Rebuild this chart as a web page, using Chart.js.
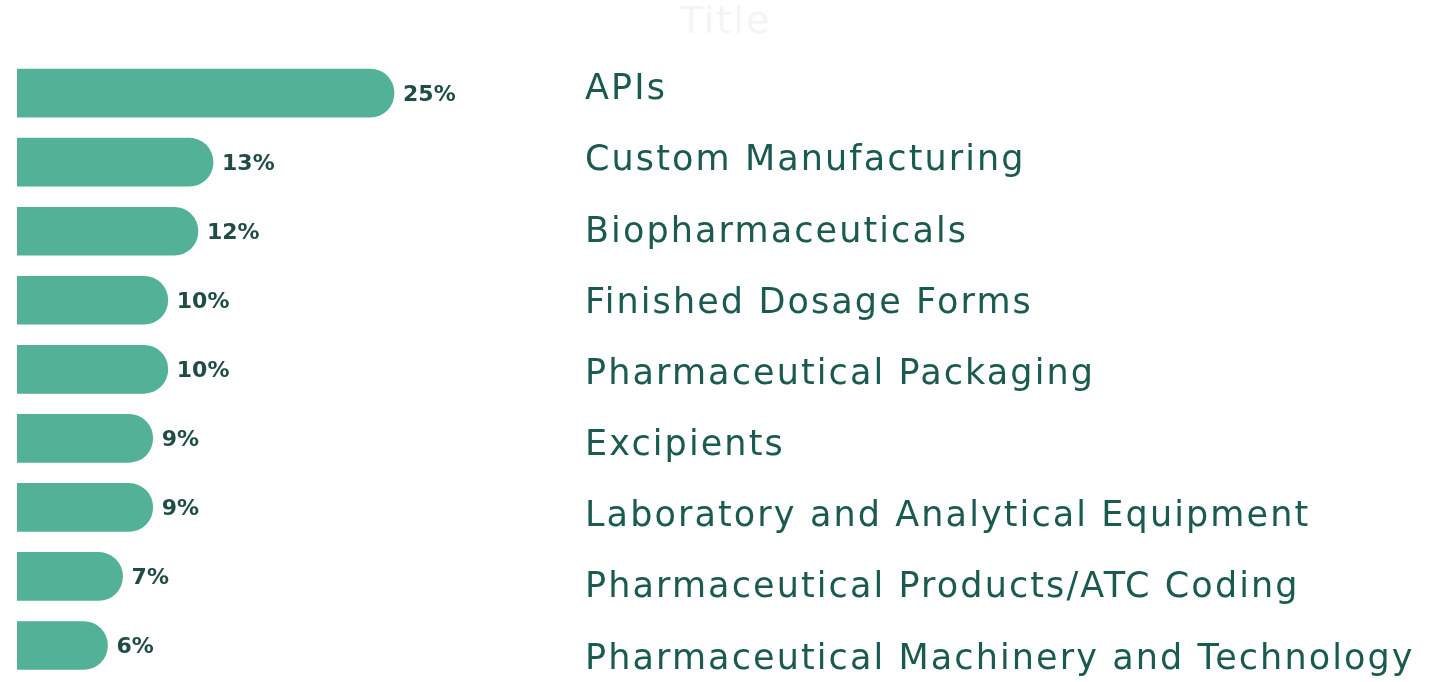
<!DOCTYPE html>
<html>
<head>
<meta charset="utf-8">
<script src="https://cdn.jsdelivr.net/npm/chart.js@4.4.1/dist/chart.umd.min.js"></script>
<style>
    html, body { margin: 0; padding: 0; background: #ffffff; }
    #wrap { width: 1434px; height: 682px; }
</style>
</head>
<body>
<div id="wrap"><canvas id="chart"></canvas></div>
<script>
(function () {
    'use strict';

    var CATEGORIES = [
        'APIs',
        'Custom Manufacturing',
        'Biopharmaceuticals',
        'Finished Dosage Forms',
        'Pharmaceutical Packaging',
        'Excipients',
        'Laboratory and Analytical Equipment',
        'Pharmaceutical Products/ATC Coding',
        'Pharmaceutical Machinery and Technology'
    ];
    var SHARES = [25, 13, 12, 10, 10, 9, 9, 7, 6];

    var BAR_COLOR = '#52b197';
    var TEXT_COLOR = '#1b5a4f';
    var VALUE_COLOR = '#1f4c45';
    var FONT = '"DejaVu Sans", "Noto Sans", sans-serif';

    // the original face is wider than anything installed, so open up the
    // category names a little while the scales are painted
    var spacing = {
        id: 'spacing',
        beforeDraw: function (chart) { chart.ctx.letterSpacing = '2.1px'; },
        beforeDatasetsDraw: function (chart) { chart.ctx.letterSpacing = '0px'; }
    };

    // percentage text just past the rounded end of each bar
    var valueLabels = {
        id: 'valueLabels',
        afterDatasetsDraw: function (chart) {
            var ctx = chart.ctx;
            var meta = chart.getDatasetMeta(0);
            ctx.save();
            ctx.font = 'bold 22px ' + FONT;
            ctx.fillStyle = VALUE_COLOR;
            ctx.textAlign = 'left';
            ctx.textBaseline = 'middle';
            for (var i = 0; i < meta.data.length; i++) {
                var bar = meta.data[i];
                ctx.fillText(SHARES[i] + '%', bar.x + 9, bar.y + 2);
            }
            ctx.restore();
        }
    };

    new Chart(document.getElementById('chart'), {
        type: 'bar',
        data: {
            labels: CATEGORIES,
            datasets: [{
                data: SHARES,
                backgroundColor: BAR_COLOR,
                borderWidth: 0,
                borderRadius: 24,
                borderSkipped: 'start',
                barThickness: 48,
                yAxisID: 'y'
            }]
        },
        options: {
            indexAxis: 'y',
            responsive: true,
            maintainAspectRatio: false,
            animation: false,
            layout: { padding: { left: 17, right: 0, top: 0, bottom: 2 } },
            plugins: {
                legend: { display: false },
                tooltip: { enabled: false },
                title: {
                    display: true,
                    text: 'Title',
                    color: '#f4f4f4',
                    font: { family: FONT, size: 38, weight: 'normal' },
                    padding: { top: 0, bottom: 13 }
                }
            },
            scales: {
                x: {
                    display: false,
                    min: 0,
                    max: 37
                },
                y: {
                    display: false,
                    type: 'category'
                },
                // category names sit on their own linear scale: their spacing
                // in the original is a little wider than the bars'
                names: {
                    type: 'linear',
                    position: 'right',
                    reverse: true,
                    offset: false,
                    bounds: 'data',
                    min: -0.443,
                    max: 8.287,
                    grid: { display: false, drawTicks: false },
                    border: { display: false },
                    afterBuildTicks: function (axis) {
                        axis.ticks = CATEGORIES.map(function (c, i) { return { value: i }; });
                    },
                    afterFit: function (axis) {
                        axis.width = 859;
                        axis.paddingTop = 0;
                        axis.paddingBottom = 0;
                    },
                    ticks: {
                        autoSkip: false,
                        padding: 10,
                        color: TEXT_COLOR,
                        font: { family: FONT, size: 35, weight: 'normal' },
                        callback: function (v) { return CATEGORIES[v]; }
                    }
                }
            }
        },
        plugins: [spacing, valueLabels]
    });
})();
</script>
</body>
</html>
